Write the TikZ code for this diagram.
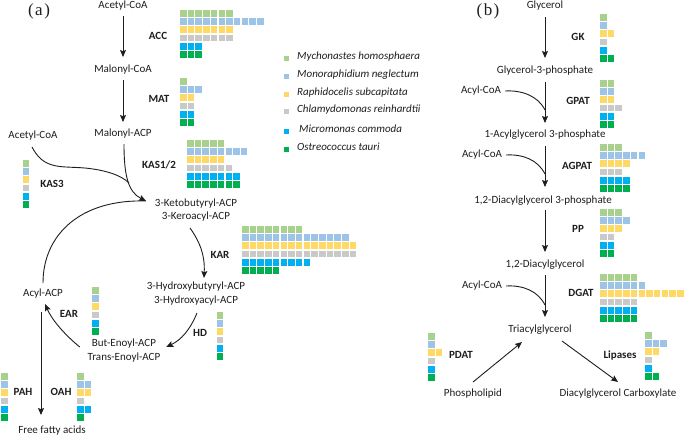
\documentclass[tikz,border=0pt]{standalone}
\usepackage{fontspec}
\setmainfont{Carlito}
\newfontfamily\panelfont{Liberation Serif}
\usetikzlibrary{arrows.meta,calc}
\definecolor{sq0}{HTML}{A9D18E}
\definecolor{sq1}{HTML}{9DC3E6}
\definecolor{sq2}{HTML}{FFD966}
\definecolor{sq3}{HTML}{C9C9C9}
\definecolor{sq4}{HTML}{00B0F0}
\definecolor{sq5}{HTML}{00B050}
\definecolor{ink}{HTML}{1E1E1E}
\newcommand\sqgrid[3]{%
  \foreach \n [count=\r from 0] in {#3}{%
    \foreach \c in {1,...,\n}{%
      \fill[fill=sq\r] ({#1+(\c-1)*7.7},{#2+\r*8.2}) rectangle ++(6.5,6.8);
    }
  }
}
\begin{document}
\begin{tikzpicture}[x=1pt,y=-1pt,
  txt/.style={inner sep=0pt, font=\fontsize{11}{13}\selectfont, text=ink, text height=7.5pt, text depth=2.5pt},
  enz/.style={txt, font=\fontsize{11}{13}\selectfont\bfseries},
  leg/.style={txt, font=\fontsize{11}{13}\selectfont\itshape, anchor=west},
  panel/.style={inner sep=0pt, font=\panelfont\fontsize{17}{19}\selectfont, text=ink},
  ln/.style={draw=ink, line width=0.9pt},
  arr/.style={ln, -{Stealth[length=7pt,width=6pt,inset=1.2pt]}}]
\fill[white] (0,0) rectangle (685,437);
\useasboundingbox (0,0) rectangle (685,437);

% panel labels
\node[panel] (pa-lab) at (39,11) {(\kern1.5pt a\kern1.5pt)};
\node[panel] (pb-lab) at (488,11) {(\kern1.5pt b\kern1.5pt)};

% ---------- panel (a) ----------
\node[txt] (acoa1) at (123,6) {Acetyl-CoA};
\node[txt] (mcoa) at (123,70) {Malonyl-CoA};
\node[txt] (macp) at (123,134) {Malonyl-ACP};
\node[txt] (acoa2) at (33,136) {Acetyl-CoA};
\node[txt] (keto1) at (196,204) {3-Ketobutyryl-ACP};
\node[txt] (keto2) at (196,217) {3-Keroacyl-ACP};
\node[txt] (hyd1) at (196,287) {3-Hydroxybutyryl-ACP};
\node[txt] (hyd2) at (196,301) {3-Hydroxyacyl-ACP};
\node[txt] (en1) at (124,344) {But-Enoyl-ACP};
\node[txt] (en2) at (124,358) {Trans-Enoyl-ACP};
\node[txt] (acp) at (43,294) {Acyl-ACP};
\node[txt] (ffa) at (52,431) {Free fatty acids};

\node[enz] (acc) at (158,37) {ACC};
\node[enz] (mat) at (159,100) {MAT};
\node[enz] (kas12) at (159,166) {KAS1/2};
\node[enz] (kas3) at (52,185) {KAS3};
\node[enz] (kar) at (220,256) {KAR};
\node[enz] (hd) at (200,334) {HD};
\node[enz] (ear) at (69,315) {EAR};
\node[enz] (pah) at (23,393) {PAH};
\node[enz] (oah) at (61,393) {OAH};

\coordinate (kin) at (146,201);
\coordinate (merge) at (129,183);

\draw[arr] ($(acoa1.center)+(0,10)$) -- ($(mcoa.center)+(0,-13)$);
\draw[arr] ($(mcoa.center)+(0,10)$) -- ($(macp.center)+(0,-12)$);
\draw[arr] ($(macp.center)+(1,10)$) .. controls (124,175) and (128,192) .. (kin);
\draw[ln] ($(acoa2.center)+(-1,11)$) .. controls (44,170) and (60,166) .. (85,168) .. controls (105,170) and (121,175) .. (merge);
\draw[ln] ($(acp.center)+(0,-11)$) .. controls (43,235) and (80,199) .. (kin);
\draw[arr] ($(keto2.center)+(-6,11)$) .. controls (200,242) and (205,255) .. ($(hyd1.center)+(8,-9)$);
\draw[arr] ($(hyd2.center)+(1,12)$) .. controls (190,330) and (181,340) .. ($(en1.east)+(10,3)$);
\draw[arr] ($(en1.west)+(-12,3)$) .. controls (65,335) and (52,320) .. ($(acp.center)+(2,10)$);
\draw[arr] ($(acp.center)+(-2,18)$) -- ($(acp.center |- ffa.center)+(-2,-16)$);

\sqgrid{180}{10}{7,11,7,7,3,3}
\sqgrid{180}{78}{1,3,2,2,2,2}
\sqgrid{187}{140}{5,8,5,6,7,7}
\sqgrid{22.5}{160}{1,1,1,1,1,1}
\sqgrid{242}{226}{8,14,15,15,9,5}
\sqgrid{216.5}{312}{1,1,1,1,1,1}
\sqgrid{92}{287}{1,1,1,1,1,1}
\sqgrid{1}{373}{1,1,1,1,1,1}
\sqgrid{77}{373}{1,2,2,1,2,1}

% legend
\foreach \nm/\yy/\xx [count=\k from 0] in {Mychonastes homosphaera/57/297, Monoraphidium neglectum/75/297, Raphidocelis subcapitata/93/297, Chlamydomonas reinhardtii/110/297, Micromonas commoda/130/299, Ostreococcus tauri/148/297}{
  \fill[fill=sq\k] (283.5,\yy-1.5) rectangle ++(5,5);
  \node[leg] (leg\k) at (\xx,\yy) {\nm};
}

% ---------- panel (b) ----------
\node[txt] (glyc) at (545,6) {Glycerol};
\node[txt] (g3p) at (545,71) {Glycerol-3-phosphate};
\node[txt] (acoa3) at (481,91) {Acyl-CoA};
\node[txt] (lpa) at (545,135) {1-Acylglycerol 3-phosphate};
\node[txt] (acoa4) at (482,155) {Acyl-CoA};
\node[txt] (pa) at (543,201) {1,2-Diacylglycerol 3-phosphate};
\node[txt] (dag) at (545,265) {1,2-Diacylglycerol};
\node[txt] (acoa5) at (482,286) {Acyl-CoA};
\node[txt] (tag) at (540,330) {Triacylglycerol};
\node[txt] (phos) at (473,394) {Phospholipid};
\node[txt] (dgc) at (618,394) {Diacylglycerol Carboxylate};

\node[enz] (gk) at (578,38) {GK};
\node[enz] (gpat) at (578,102) {GPAT};
\node[enz] (agpat) at (577,167) {AGPAT};
\node[enz] (pp) at (578,230) {PP};
\node[enz] (dgat) at (581,294) {DGAT};
\node[enz] (pdat) at (461,356) {PDAT};
\node[enz] (lip) at (620,356) {Lipases};

\draw[arr] ($(glyc.center)+(0,11)$) -- ($(g3p.center)+(0,-13)$);
\draw[arr] ($(g3p.center)+(0,11)$) -- ($(lpa.center)+(0,-12)$);
\draw[arr] ($(lpa.center)+(0,11)$) -- ($(pa.center)+(2,-14)$);
\draw[arr] ($(pa.center)+(2,9)$) -- ($(dag.center)+(0,-13)$);
\draw[arr] ($(dag.center)+(0,10)$) -- ($(tag.center)+(5,-13)$);
\draw[ln] ($(acoa3.east)+(4,0)$) .. controls (522,90) and (538,96) .. ($(g3p.center)+(0,39)$);
\draw[ln] ($(acoa4.east)+(4,0)$) .. controls (523,154) and (538,160) .. ($(lpa.center)+(0,39)$);
\draw[ln] ($(acoa5.east)+(4,0)$) .. controls (523,285) and (538,291) .. ($(dag.center)+(0,40)$);
\draw[arr] ($(phos.center)+(0,-12)$) -- ($(tag.center)+(-18,12)$);
\draw[arr] ($(tag.center)+(22,11)$) -- ($(dgc.center)+(0,-12)$);

\sqgrid{600}{14}{1,1,2,1,1,2}
\sqgrid{600}{80}{2,2,2,3,2,2}
\sqgrid{600}{144}{3,6,4,3,4,4}
\sqgrid{600}{209}{3,4,3,2,2,2}
\sqgrid{600}{274}{5,6,11,5,5,5}
\sqgrid{428}{333}{1,1,2,1,1,1}
\sqgrid{645}{332}{1,3,2,1,1,2}
\end{tikzpicture}
\end{document}
